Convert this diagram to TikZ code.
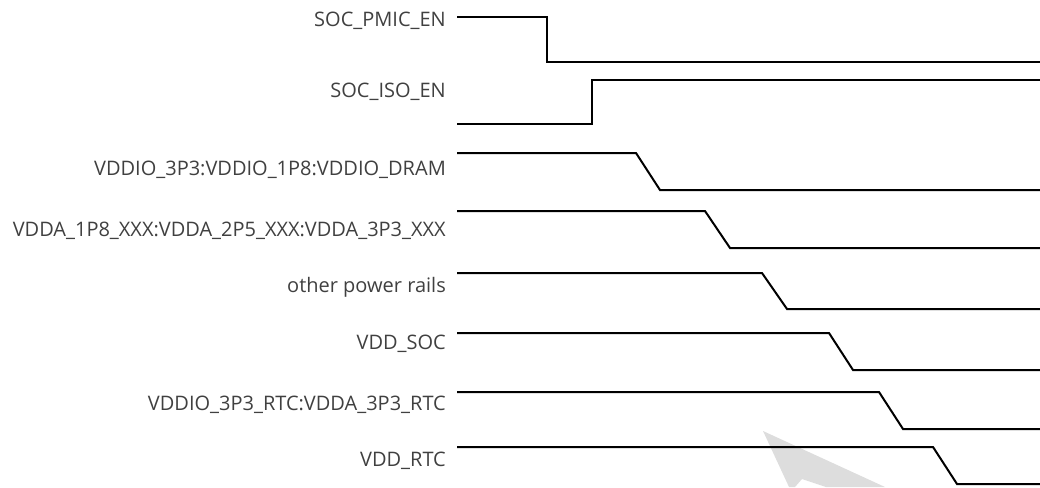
\documentclass[tikz,border=0pt]{standalone}
\usepackage{fontspec}
\setmainfont{Open Sans}
\definecolor{lblgray}{HTML}{404040}
\definecolor{wmgray}{HTML}{DDDDDD}
\tikzset{
  lbl/.style={anchor=base east, inner sep=0pt, text=lblgray, font=\fontsize{20}{24}\selectfont},
  wave/.style={line width=2pt, black, line join=miter},
}
\begin{document}
\begin{tikzpicture}[x=1pt,y=-1pt]
\useasboundingbox (0,0) rectangle (1040,487);
% watermark arrow
\fill[wmgray] (763,431) -- (885,487) -- (826,487) -- (802,479) -- (795,487) -- (789,487) -- cycle;
% labels
\node[lbl] (l1) at (446,27) {SOC\_PMIC\_EN};
\node[lbl] (l2) at (446,97) {SOC\_ISO\_EN};
\node[lbl] (l3) at (446,175) {VDDIO\_3P3:VDDIO\_1P8:VDDIO\_DRAM};
\node[lbl] (l4) at (446,236) {VDDA\_1P8\_XXX:VDDA\_2P5\_XXX:VDDA\_3P3\_XXX};
\node[lbl] (l5) at (446,292) {other power rails};
\node[lbl] (l6) at (446,349) {VDD\_SOC};
\node[lbl] (l7) at (446,410) {VDDIO\_3P3\_RTC:VDDA\_3P3\_RTC};
\node[lbl] (l8) at (446,466) {VDD\_RTC};
% waveforms
\draw[wave] (457,17) -- (547,17) -- (547,62) -- (1040,62);
\draw[wave] (457,124) -- (592,124) -- (592,80) -- (1040,80);
\draw[wave] (457,153) -- (636,153) -- (660,190) -- (1040,190);
\draw[wave] (457,211) -- (705,211) -- (730,248) -- (1040,248);
\draw[wave] (457,273) -- (762,273) -- (787,309) -- (1040,309);
\draw[wave] (457,333) -- (829,333) -- (853,370) -- (1040,370);
\draw[wave] (457,392) -- (879,392) -- (903,429) -- (1040,429);
\draw[wave] (457,447) -- (933,447) -- (957,484) -- (1040,484);
\end{tikzpicture}
\end{document}
